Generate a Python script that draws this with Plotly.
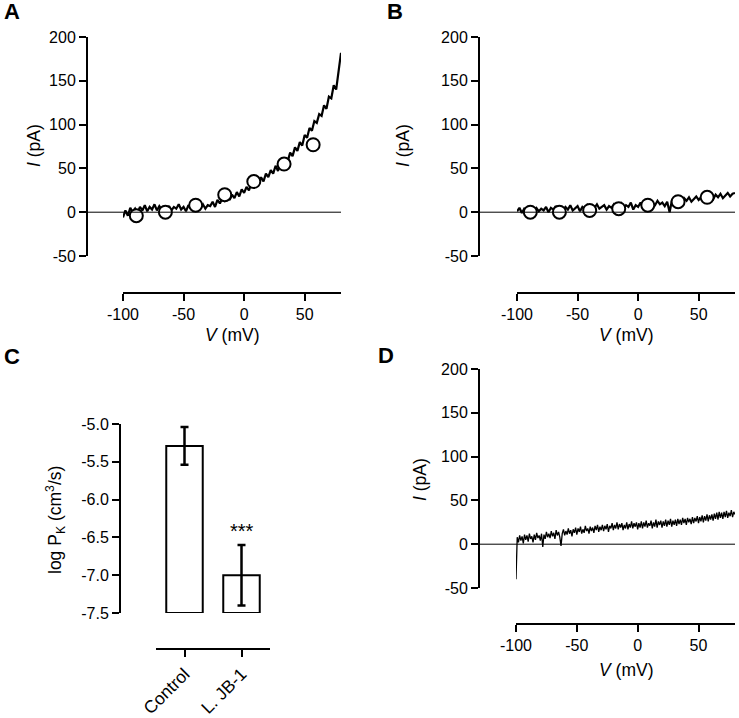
import plotly.graph_objects as go

W, H = 739, 718

# ---- data ----
# panel A: I-V trace (every 2 mV from -100 to 80) and step currents
a_volt = list(range(-100, 81, 2))
a_curr = [-6, 2, -4, 5, 0, 4, -1, 6, 2, 8,
          1, 6, 3, 9, 2, 7, 3, 5, 1, 7,
          2, 6, 4, 9, 3, 6, 1, 8, 4, 10,
          6, 11, 5, 9, 4, 8, 7, 12, 6, 14,
          10, 16, 13, 18, 14, 20, 16, 23, 18, 26,
          22, 29, 25, 33, 28, 36, 31, 40, 35, 44,
          40, 48, 44, 53, 47, 57, 52, 62, 58, 68,
          64, 74, 70, 80, 76, 88, 85, 96, 93, 104,
          102, 112, 110, 122, 118, 132, 130, 145, 140, 160,
          182]
step_volt = [-89, -65, -40, -16, 8, 33, 57]
a_step_curr = [-4, 0, 8, 20, 35, 55, 77]

# panel B
b_volt = list(range(-100, 81, 2))
b_curr = [1, 5, -1, 4, 2, 6, 0, 3, 5, 1,
          4, 2, 6, 0, 5, 3, 7, 1, 4, 2,
          6, 3, 8, 2, 5, 7, 1, 6, 4, 8,
          3, 7, 5, 9, 4, 6, 8, 3, 7, 5,
          9, 4, 7, 10, 5, 8, 6, 11, 3, 8,
          6, 11, 5, 9, 12, 7, 10, 8, 13, 9,
          11, 7, 12, 0, 14, 9, 12, 15, 11, 16,
          13, 17, 12, 15, 18, 14, 17, 13, 19, 16,
          18, 15, 20, 17, 21, 16, 19, 22, 18, 21,
          22]
b_step_curr = [0, 0, 2, 4, 8, 12, 17]

# panel C
groups = ["Control", "L. JB-1"]
log_pk = [-5.29, -7.0]
log_pk_err = [0.25, 0.40]
signif = ["", "***"]

# panel D (every 1 mV from -100 to 80)
d_volt = list(range(-100, 81))
d_curr = [-40, 8, 2, 10, 4, 9, 1, 11, 5, 10,
          3, 12, 6, 9, 2, 11, 5, 13, 7, 10,
          4, 12, -3, 11, 6, 14, 8, 12, 7, 15,
          9, 13, 6, 16, 10, 14, 8, -2, 12, 17,
          10, 15, 11, 18, 12, 16, 9, 17, 13, 19,
          11, 18, 14, 20, 12, 17, 13, 21, 15, 18,
          12, 20, 15, 19, 13, 21, 16, 22, 14, 20,
          16, 22, 15, 21, 17, 23, 14, 21, 18, 24,
          16, 22, 18, 25, 17, 23, 19, 24, 16, 22,
          18, 25, 17, 23, 19, 26, 18, 24, 20, 25,
          17, 24, 19, 26, 18, 25, 20, 27, 19, 24,
          21, 27, 18, 25, 20, 28, 19, 26, 22, 27,
          19, 26, 21, 28, 20, 27, 22, 29, 20, 27,
          22, 28, 21, 29, 23, 28, 22, 30, 24, 29,
          22, 30, 25, 29, 23, 31, 24, 30, 26, 32,
          24, 31, 26, 33, 25, 32, 27, 34, 26, 33,
          28, 34, 27, 35, 29, 36, 28, 37, 30, 36,
          29, 37, 31, 38, 30, 36, 32, 39, 31, 37,
          34]

v_ticks = [-100, -50, 0, 50]
v_ticktext = ["-100", "-50", "0", "50"]
i_ticks = [-50, 0, 50, 100, 150, 200]
i_ticktext = ["-50", "0", "50", "100", "150", "200"]
pk_ticks = [-7.5, -7.0, -6.5, -6.0, -5.5, -5.0]
pk_ticktext = ["-7.5", "-7.0", "-6.5", "-6.0", "-5.5", "-5.0"]

FONT = "Arial, Liberation Sans, sans-serif"


def px(x):
    return x / W


def py(y):
    return 1 - y / H


fig = go.Figure()

axis_common = dict(showgrid=False, zeroline=False, showline=True, linecolor="black",
                   linewidth=2, ticks="outside", ticklen=7, tickwidth=2, automargin=False,
                   tickcolor="black", tickfont=dict(family=FONT, size=16, color="black"))

# A
fig.add_trace(go.Scatter(x=a_volt, y=a_curr, mode="lines", line=dict(color="black", width=2.2),
                         xaxis="x", yaxis="y", showlegend=False))
fig.add_trace(go.Scatter(x=step_volt, y=a_step_curr, mode="markers",
                         marker=dict(size=13, color="white", line=dict(color="black", width=2)),
                         xaxis="x", yaxis="y", showlegend=False))
# B
fig.add_trace(go.Scatter(x=b_volt, y=b_curr, mode="lines", line=dict(color="black", width=2.2),
                         xaxis="x2", yaxis="y2", showlegend=False))
fig.add_trace(go.Scatter(x=step_volt, y=b_step_curr, mode="markers",
                         marker=dict(size=13, color="white", line=dict(color="black", width=2)),
                         xaxis="x2", yaxis="y2", showlegend=False))
# C
fig.add_trace(go.Bar(x=groups, y=[v + 7.5 for v in log_pk], base=-7.5, width=0.64,
                     marker=dict(color="white", line=dict(color="black", width=2)),
                     xaxis="x3", yaxis="y3", showlegend=False))
fig.add_trace(go.Scatter(x=groups, y=log_pk, mode="markers",
                         marker=dict(size=1, color="rgba(0,0,0,0)"),
                         error_y=dict(type="data", array=log_pk_err, color="black",
                                      thickness=2.5, width=4),
                         xaxis="x3", yaxis="y3", showlegend=False))
# D
fig.add_trace(go.Scatter(x=d_volt, y=d_curr, mode="lines", line=dict(color="black", width=1.3),
                         xaxis="x4", yaxis="y4", showlegend=False))

yA = [py(256), py(37)]
yD = [py(588), py(369)]

fig.update_layout(
    template="none",
    width=W, height=H, margin=dict(l=0, r=0, t=0, b=0, autoexpand=False),
    plot_bgcolor="white", paper_bgcolor="white",
    font=dict(family=FONT, size=16, color="black"),
    xaxis=dict(axis_common, domain=[px(123), px(341)], range=[-100, 80], anchor="free",
               position=py(293), tickvals=v_ticks, ticktext=v_ticktext),
    yaxis=dict(axis_common, domain=yA, range=[-50, 200], anchor="free", position=px(87),
               tickvals=i_ticks, ticktext=i_ticktext),
    xaxis2=dict(axis_common, domain=[px(517), px(735)], range=[-100, 80], anchor="free",
                position=py(293), tickvals=v_ticks, ticktext=v_ticktext),
    yaxis2=dict(axis_common, domain=yA, range=[-50, 200], anchor="free", position=px(479),
                tickvals=i_ticks, ticktext=i_ticktext),
    xaxis3=dict(axis_common, domain=[px(156), px(270)], range=[-0.5, 1.5], anchor="free",
                position=py(649), tickangle=-45, type="category"),
    yaxis3=dict(axis_common, domain=[py(613), py(424)], range=[-7.5, -5.0], anchor="free",
                position=px(120), tickvals=pk_ticks, ticktext=pk_ticktext),
    xaxis4=dict(axis_common, domain=[px(516), px(735)], range=[-100, 80], anchor="free",
                position=py(624), tickvals=v_ticks, ticktext=v_ticktext),
    yaxis4=dict(axis_common, domain=yD, range=[-50, 200], anchor="free", position=px(479),
                tickvals=i_ticks, ticktext=i_ticktext),
)
fig.update_layout(xaxis3_tickfont_size=17.5)

# zero lines
for xl, xr, yref in [(87, 341, "y"), (479, 735, "y2"), (479, 735, "y4")]:
    fig.add_shape(type="line", xref="paper", yref=yref, x0=px(xl), x1=px(xr), y0=0, y1=0,
                  line=dict(color="black", width=1))

annots = []
# panel letters
for letter, x, y in [("A", 12, 12), ("B", 395, 12), ("C", 12, 356), ("D", 386, 355)]:
    annots.append(dict(text="<b>" + letter + "</b>", x=px(x), y=py(y), font=dict(size=22)))
# axis titles
for x, y in [(34, 146), (403, 146), (420, 480)]:
    annots.append(dict(text="<i>I</i> (pA)", x=px(x), y=py(y), textangle=-90, font=dict(size=17.5)))
for x, y in [(232, 335), (626, 335), (626, 670)]:
    annots.append(dict(text="<i>V</i> (mV)", x=px(x), y=py(y), font=dict(size=17.5)))
annots.append(dict(text="log P<sub>K</sub> (cm<sup>3</sup>/s)", x=px(55), y=py(520),
                   textangle=-90, font=dict(size=17.5)))

for a in annots:
    fig.add_annotation(xref="paper", yref="paper", showarrow=False, xanchor="center",
                       yanchor="middle", **a)

fig.add_annotation(x=groups[1], y=-6.42, xref="x3", yref="y3", text=signif[1],
                   showarrow=False, font=dict(size=20))

# page body has a default 8px margin; drop it so the figure sits at the window origin
fig.write_html("out.html", config={"displayModeBar": False},
               post_script="document.body.style.margin='0px';")
